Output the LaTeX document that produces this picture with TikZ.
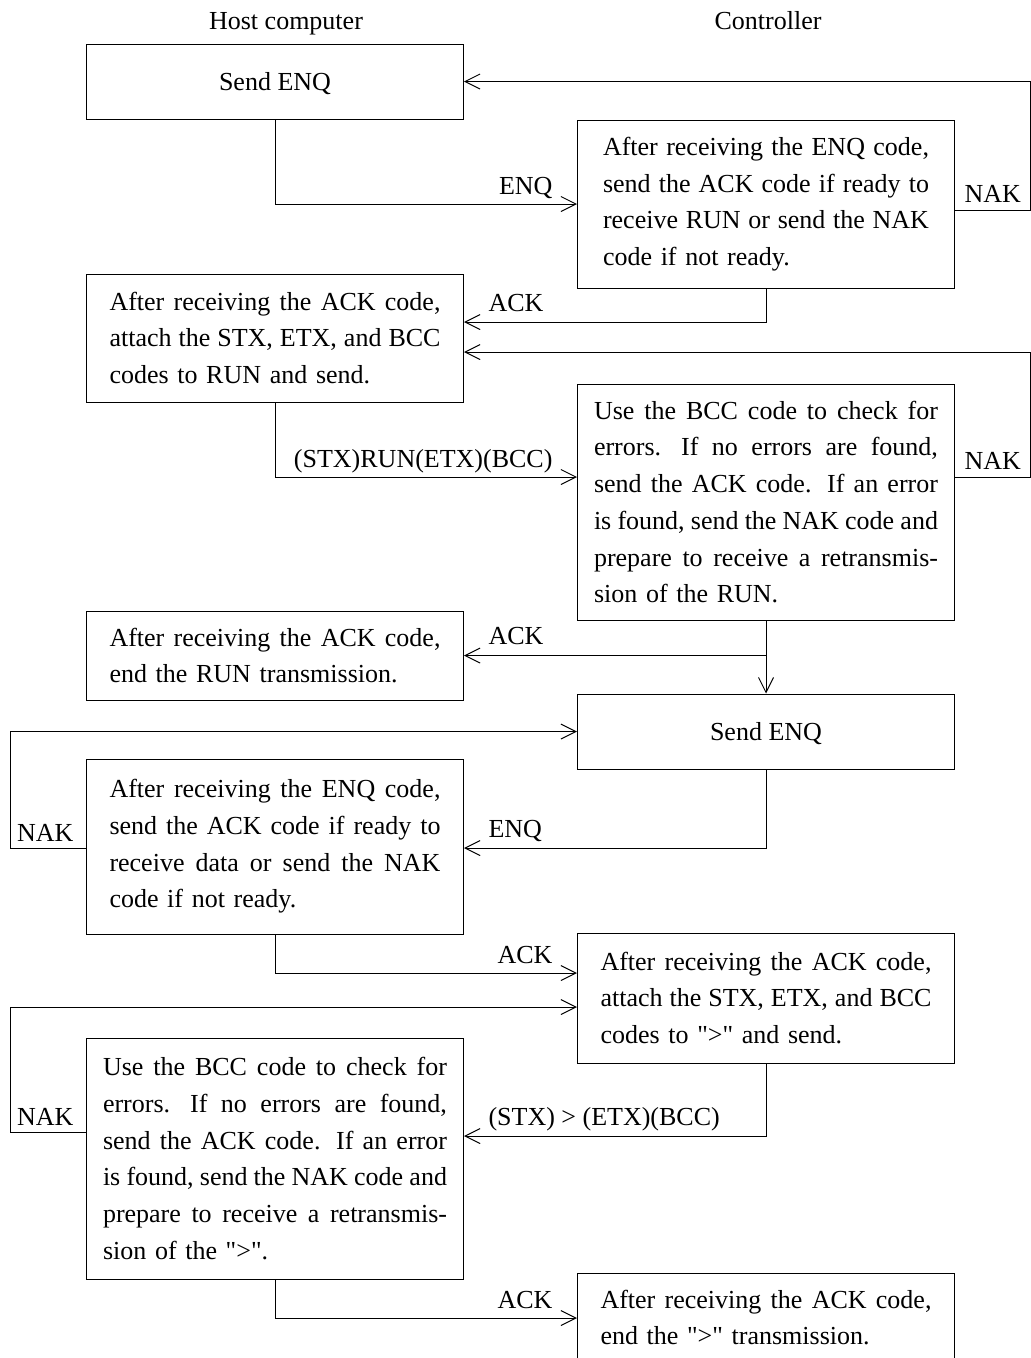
\documentclass[tikz,border=0pt]{standalone}
\usepackage{fontspec}
\setmainfont{Liberation Serif}
\usetikzlibrary{arrows.meta, positioning}
\newcommand{\boxfont}{\fontsize{26pt}{36.7pt}\selectfont}
% one justified line inside a message box (\jw is set by the msg style)
\newcommand{\jl}[1]{\makebox[\jw][s]{%
  \spaceskip=0.25em plus 1fil minus 0.1em
  \xspaceskip=0.5em plus 1fil minus 0.1em
  #1}\\}
\newcommand{\qt}{\textquotedbl}

\begin{document}
\begin{tikzpicture}[x=1pt, y=-1pt, font=\boxfont, line width=1pt,
  >={Straight Barb[length=15pt, width=15pt]},
  box/.style={draw, line width=1pt, minimum width=377pt, align=center},
  msg/.style={box, text width=#1, align=left, execute at begin node={\def\jw{#1}}},
  msg/.default=331pt,
  tagl/.style={anchor=base east, inner sep=0pt, xshift=-24pt, yshift=10pt},
  tagr/.style={anchor=base west, inner sep=0pt, xshift=24pt, yshift=11pt},
  nakr/.style={anchor=base west, inner sep=0pt, xshift=9pt, yshift=8pt},
  nakl/.style={anchor=base east, inner sep=0pt, xshift=-12pt, yshift=7pt}]
  \clip (0,0) rectangle (1031,1358);

  % column heads
  \node[anchor=base] (host) at (286,29) {Host computer};
  \node[anchor=base] (ctrl) at (768,29) {Controller};

  % RUN exchange
  \node[box, minimum height=75pt, text depth=0pt] (b1) at (275,81.5) {Send ENQ};
  \node[msg=326pt, minimum height=168pt] (b2) at (766,204) {%
    \jl{After receiving the ENQ code,}
    \jl{send the ACK code if ready to}
    \jl{receive RUN or send the NAK}
    code if not ready.};
  \node[msg, minimum height=128pt] (b3) at (275,338) {%
    \jl{After receiving the ACK code,}
    \jl{attach the STX, ETX, and BCC}
    codes to RUN and send.};
  \node[msg=344pt, minimum height=236pt] (b4) at (766,502) {%
    \jl{Use the BCC code to check for}
    \jl{errors.  If no errors are found,}
    \jl{send the ACK code.  If an error}
    \jl{is found, send the NAK code and}
    \jl{prepare to receive a retransmis-}
    sion of the RUN.};
  \node[msg, minimum height=89pt] (b5) at (275,655.5) {%
    \jl{After receiving the ACK code,}
    end the RUN transmission.};

  % ">" exchange
  \node[box, minimum height=75pt, text depth=0pt] (b6) at (766,731.5) {Send ENQ};
  \node[msg, minimum height=175pt] (b7) at (275,846.5) {%
    \jl{After receiving the ENQ code,}
    \jl{send the ACK code if ready to}
    \jl{receive data or send the NAK}
    code if not ready.};
  \node[msg, minimum height=130pt] (b8) at (766,998) {%
    \jl{After receiving the ACK code,}
    \jl{attach the STX, ETX, and BCC}
    codes to \qt>\qt{} and send.};
  \node[msg=344pt, minimum height=241pt] (b9) at (275,1158.5) {%
    \jl{Use the BCC code to check for}
    \jl{errors.  If no errors are found,}
    \jl{send the ACK code.  If an error}
    \jl{is found, send the NAK code and}
    \jl{prepare to receive a retransmis-}
    sion of the \qt>\qt.};
  \node[msg, minimum height=89pt] (b10) at (766,1317.5) {%
    \jl{After receiving the ACK code,}
    end the \qt>\qt{} transmission.};

  % connectors
  \draw[->] (b1) |- (b2.west) node[tagl] {ENQ};
  \draw[->] (b2.east |- 0,210) node[nakr] {NAK} -- (1030,210) |- (b1.east);
  \draw[->] (b2) |- (b3.east |- 0,322) node[tagr] {ACK};
  \draw[->] (b4.east |- 0,477) node[nakr] {NAK} -- (1030,477) |- (b3.east |- 0,352);
  \draw[->] (b3) |- (b4.west |- 0,477) node[tagl] {(STX)RUN(ETX)(BCC)};
  \draw[->] (b4) |- (b5.east) node[tagr] {ACK};
  \draw[->] (b4) -- (b6);
  \draw[->] (b7.west |- 0,848) node[nakl] {NAK} -- (10,848) |- (b6.west);
  \draw[->] (b6) |- (b7.east |- 0,848) node[tagr] {ENQ};
  \draw[->] (b7) |- (b8.west |- 0,973) node[tagl] {ACK};
  \draw[->] (b9.west |- 0,1132) node[nakl] {NAK} -- (10,1132) |- (b8.west |- 0,1007);
  \draw[->] (b8) |- (b9.east |- 0,1136) node[tagr] {(STX) > (ETX)(BCC)};
  \draw[->] (b9) |- (b10.west |- 0,1318) node[tagl] {ACK};
\end{tikzpicture}
\end{document}
